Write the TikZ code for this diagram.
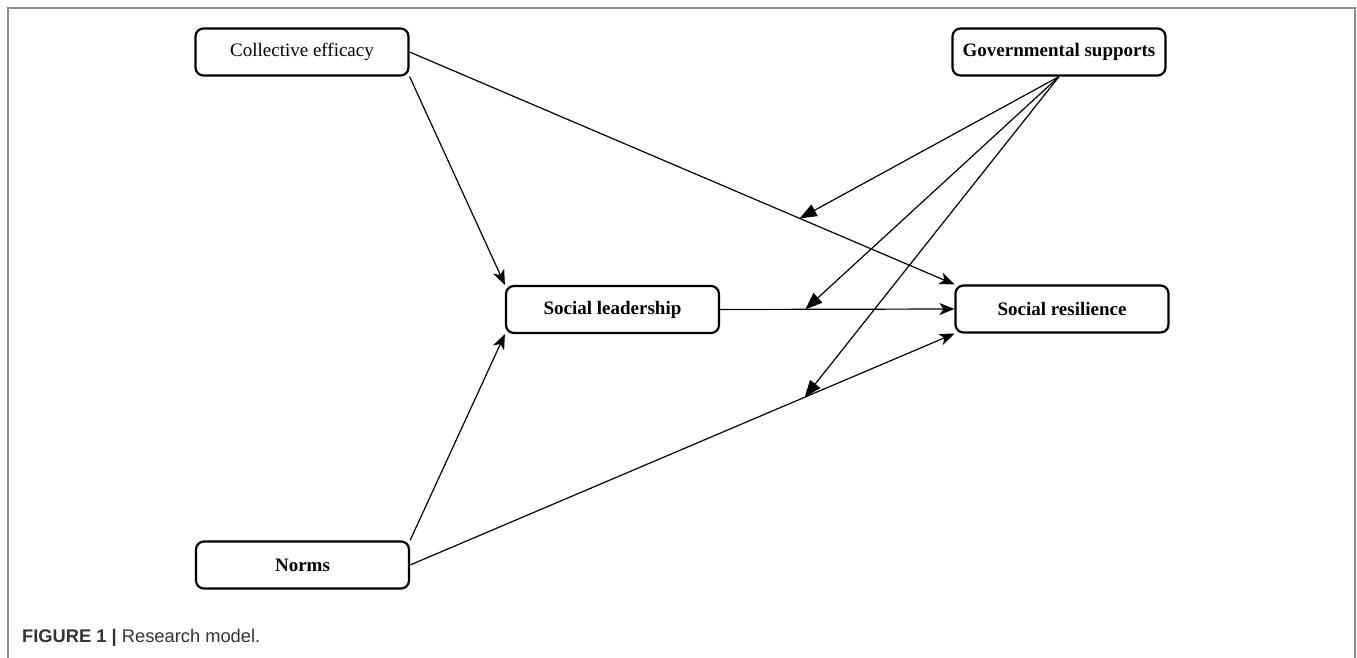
\documentclass[tikz,border=0pt]{standalone}
\usepackage{fontspec}
\setmainfont{Liberation Serif}
\newfontfamily\capfont{Liberation Sans}
\usetikzlibrary{arrows.meta}
\begin{document}
\begin{tikzpicture}[x=1pt,y=-1pt,
  construct/.style={draw=black,line width=2.2pt,rounded corners=8pt,
    minimum width=213pt,minimum height=47pt,inner sep=0pt,
    font=\fontsize{19}{22}\selectfont},
  strong/.style={construct,font=\fontsize{19}{22}\selectfont\bfseries},
  path/.style={line width=1.2pt,-{Stealth[length=15pt,width=12pt,inset=4pt]}},
  moderate/.style={line width=1.2pt,-{Triangle[length=17pt,width=13pt]}}]
\useasboundingbox (0,0) rectangle (1357,658);
% outer frame, open at the bottom
\draw[line width=2pt,black!45] (8,658) -- (8,8) -- (1355,8) -- (1355,658);

% constructs
\node[construct] (ce) at (302,52) {Collective efficacy};
\node[strong] (gs) at (1059,52) {Governmental supports};
\node[strong] (sl) at (612.5,309.5) {Social leadership};
\node[strong] (sr) at (1062,309) {Social resilience};
\node[strong] (no) at (302.5,565) {Norms};

% direct paths
\draw[path] (ce.east) -- (sr.north west) coordinate[pos=0.716] (m1);
\draw[path] (ce.south east) -- (sl.north west);
\draw[path] (no.north east) -- (sl.south west);
\draw[path] (sl.east) -- (sr.west) coordinate[pos=0.364] (m2);
\draw[path] (no.east) -- (sr.south west) coordinate[pos=0.725] (m3);

% moderating effects of governmental supports
\draw[moderate] (gs.south) -- (m1);
\draw[moderate] (gs.south) -- (m2);
\draw[moderate] (gs.south) -- (m3);

% caption
\node[anchor=west,inner sep=0pt,font=\capfont\fontsize{18.3}{20}\selectfont,text=black!80]
  (cap) at (22,638) {\textbf{FIGURE 1 |} Research model.};
\end{tikzpicture}
\end{document}
